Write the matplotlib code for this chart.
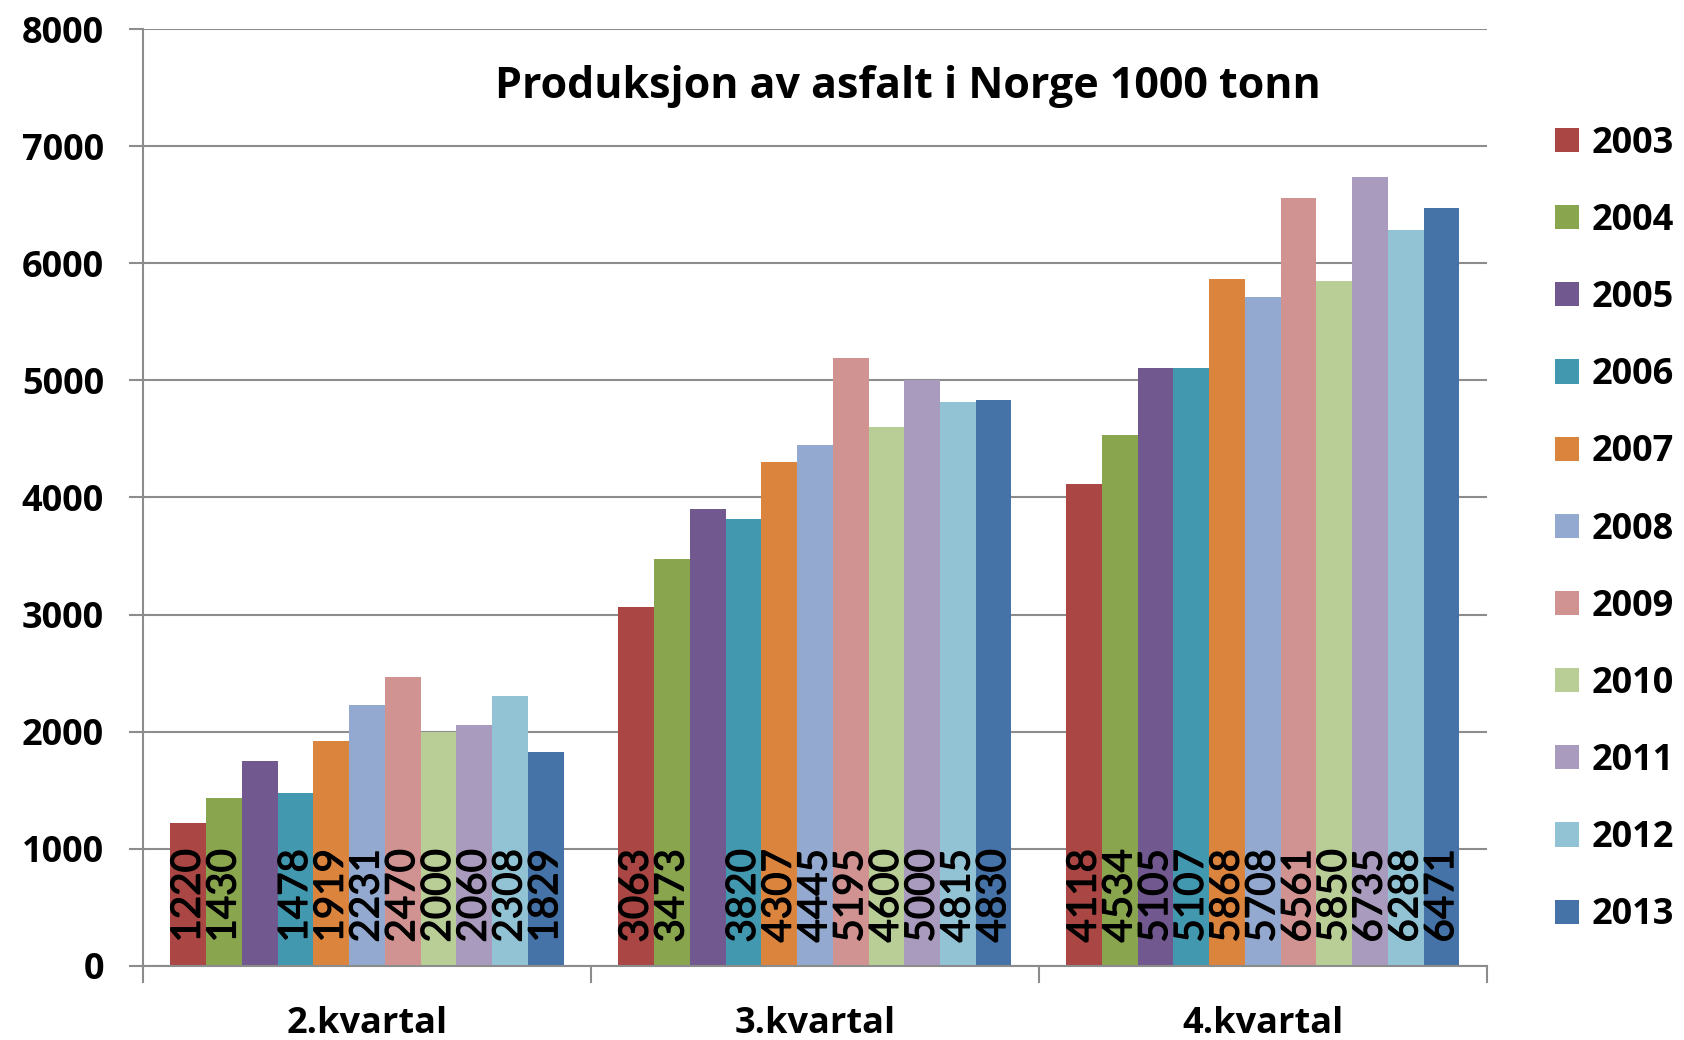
import matplotlib
matplotlib.use("Agg")
import matplotlib.pyplot as plt
import matplotlib.patheffects as pe
from matplotlib.patches import Patch

# data (1000 tonn)
quarters = ["2.kvartal", "3.kvartal", "4.kvartal"]
years = ["2003", "2004", "2005", "2006", "2007", "2008",
         "2009", "2010", "2011", "2012", "2013"]
q2 = [1220, 1430, 1750, 1478, 1919, 2231, 2470, 2000, 2060, 2308, 1829]
q3 = [3063, 3473, 3900, 3820, 4307, 4445, 5195, 4600, 5000, 4815, 4830]
q4 = [4118, 4534, 5105, 5107, 5868, 5708, 6561, 5850, 6735, 6288, 6471]
# the 2005 bars carry no label in the first two quarters
q2_labels = ["1220", "1430", "", "1478", "1919", "2231", "2470", "2000", "2060", "2308", "1829"]
q3_labels = ["3063", "3473", "", "3820", "4307", "4445", "5195", "4600", "5000", "4815", "4830"]
q4_labels = ["4118", "4534", "5105", "5107", "5868", "5708", "6561", "5850", "6735", "6288", "6471"]
yticks = [0, 1000, 2000, 3000, 4000, 5000, 6000, 7000, 8000]

colors = ["#AA4643", "#89A54E", "#71588F", "#4198AF", "#DB843D", "#93A9CF",
          "#D19392", "#B9CD96", "#A99BBD", "#92C3D4", "#4572A7"]

plt.rcParams["font.family"] = ["Open Sans", "DejaVu Sans"]

fig = plt.figure(figsize=(16.84, 10.4), dpi=100)
ax = fig.add_axes([0.0849, 0.0712, 0.798, 0.9009])

values = [q2, q3, q4]
labels = [q2_labels, q3_labels, q4_labels]
width = 0.0798
grid_col = "#8c8c8c"

for j in range(len(years)):
    xs = [i + (j - 5) * width for i in range(len(quarters))]
    hs = [values[i][j] for i in range(len(quarters))]
    ax.bar(xs, hs, width=width, color=colors[j], edgecolor="none", zorder=2)
    for i in range(len(quarters)):
        if labels[i][j]:
            ax.text(xs[i], 200, labels[i][j], rotation=90, ha="center", va="bottom",
                    fontsize=29, color="black", zorder=3, family=["Lato", "DejaVu Sans"],
                    path_effects=[pe.withStroke(linewidth=0.9, foreground="black")])

ax.set_xlim(-0.5, 2.5)
ax.set_ylim(0, 8000)
ax.set_yticks(yticks)
ax.set_yticklabels([str(t) for t in yticks], fontsize=26, fontweight="bold")
ax.yaxis.grid(True, color=grid_col, linewidth=1.5, zorder=0)
ax.set_axisbelow(True)

# boundary ticks between quarters, labels at the middle
ax.set_xticks([-0.5, 0.5, 1.5, 2.5])
ax.set_xticklabels([])
ax.set_xticks([0, 1, 2], minor=True)
ax.set_xticklabels(quarters, minor=True, fontsize=26, fontweight="bold")
ax.tick_params(axis="x", which="major", length=12, width=1.5, color=grid_col, direction="out")
ax.tick_params(axis="x", which="minor", length=0, pad=29)
ax.tick_params(axis="y", length=10, width=1.5, color=grid_col, direction="out", pad=18)

for s in ["top", "right"]:
    ax.spines[s].set_visible(False)
for s in ["left", "bottom"]:
    ax.spines[s].set_color(grid_col)
    ax.spines[s].set_linewidth(1.5)

fig.text(0.539, 0.917, "Produksjon av asfalt i Norge 1000 tonn", ha="center", va="center",
         fontsize=31, fontweight="bold")

handles = [Patch(facecolor=c, edgecolor="none", label=y) for c, y in zip(colors, years)]
leg = fig.legend(handles=handles, loc="upper left", bbox_to_anchor=(0.915, 0.893),
                 frameon=False, fontsize=26, handlelength=0.65, handleheight=0.65,
                 handletextpad=0.35, labelspacing=1.14, borderaxespad=0)
for t in leg.get_texts():
    t.set_fontweight("bold")

fig.savefig("out.png", dpi=100)
